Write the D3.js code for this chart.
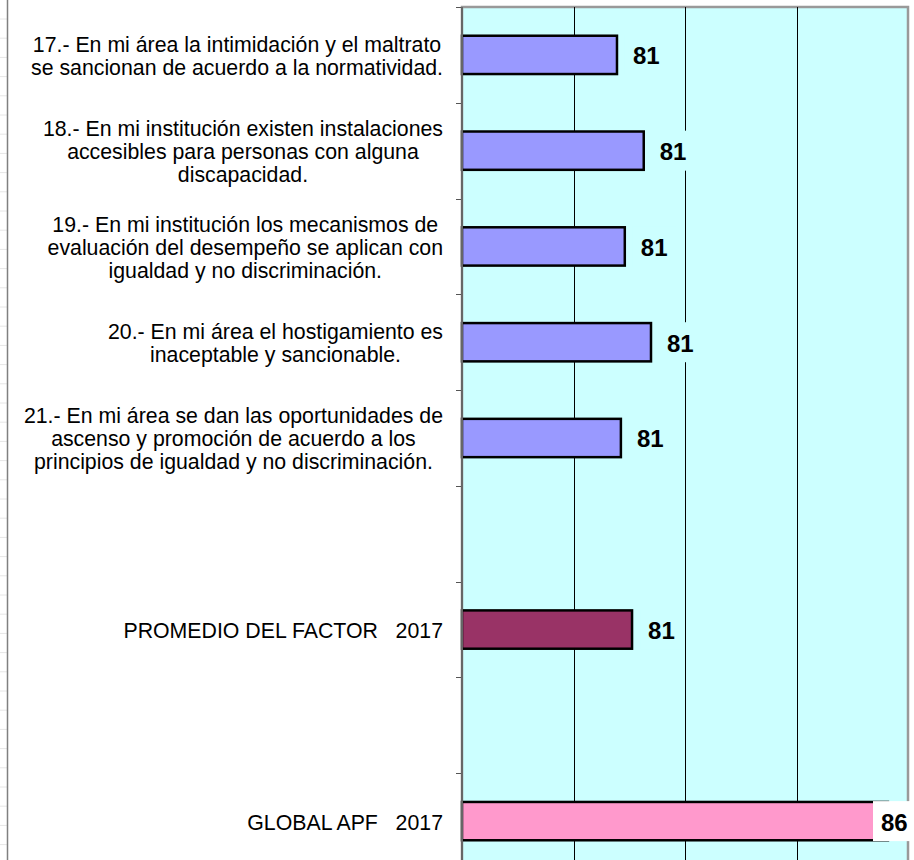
<!DOCTYPE html>
<html>
<head>
<meta charset="utf-8">
<script src="https://cdn.jsdelivr.net/npm/d3@7"></script>
<style>
  html, body { margin: 0; padding: 0; background: #fff; }
  svg { display: block; font-family: "Liberation Sans", Arial, sans-serif; }
</style>
</head>
<body>
<div id="chart"></div>
<script>
// data
var categories = ['q17', 'q18', 'q19', 'q20', 'q21', 'gap1', 'prom', 'gap2', 'global'];
var labels = [
  ['17.- En mi área la intimidación y el maltrato', 'se sancionan de acuerdo a la normatividad.'],
  ['18.- En mi institución existen instalaciones', 'accesibles para personas con alguna', 'discapacidad.'],
  ['19.- En mi institución los mecanismos de', 'evaluación del desempeño se aplican con', 'igualdad y no discriminación.'],
  ['20.- En mi área el hostigamiento es', 'inaceptable y sancionable.'],
  ['21.- En mi área se dan las oportunidades de', 'ascenso y promoción de acuerdo a los', 'principios de igualdad y no discriminación.'],
  [],
  ['PROMEDIO DEL FACTOR   2017'],
  [],
  ['GLOBAL APF   2017']
];
var values = [80.78, 81.26, 80.92, 81.39, 80.85, null, 81.05, null, 85.64];
var barColors = ['#9999FF', '#9999FF', '#9999FF', '#9999FF', '#9999FF', null, '#993366', null, '#FF99CC'];
var xDomain = [78, 86];
var gridTicks = [80, 82, 84];

(function() {
  'use strict';

  var svgW = 914,
    svgH = 860;

  var plotL = 462,
    plotR = 908,
    plotT = 7,
    plotB = 869;

  var lineH = 23,
    labelRight = 443;

  var rows = categories.map(function(c, i) {
    return { key: c, lines: labels[i], value: values[i], color: barColors[i] };
  });

  var svg = d3.select('#chart')
    .append('svg')
    .attr('width', svgW)
    .attr('height', svgH);

  var x = d3.scaleLinear()
    .domain(xDomain)
    .range([plotL, plotR]);

  var y = d3.scaleBand()
    .domain(categories)
    .range([plotT, plotB])
    .paddingInner(0.6)
    .paddingOuter(0.3);

  var step = y.step();

  // spreadsheet leftovers on the left edge
  svg.append('g')
    .selectAll('line')
    .data(d3.range(19, svgH, 19.2))
    .enter()
    .append('line')
    .attr('x1', 0)
    .attr('x2', 7)
    .attr('y1', function(d) { return d; })
    .attr('y2', function(d) { return d; })
    .attr('stroke', '#e6e6e6')
    .attr('stroke-width', 1);

  svg.append('line')
    .attr('x1', 7.5).attr('x2', 7.5)
    .attr('y1', 0).attr('y2', svgH)
    .attr('stroke', '#808080')
    .attr('stroke-width', 1.5);

  // plot area
  svg.append('rect')
    .attr('x', plotL)
    .attr('y', plotT)
    .attr('width', plotR - plotL)
    .attr('height', plotB - plotT)
    .attr('fill', '#CCFFFF')
    .attr('stroke', '#999999')
    .attr('stroke-width', 2.5);

  svg.append('g')
    .selectAll('line')
    .data(gridTicks)
    .enter()
    .append('line')
    .attr('x1', function(d) { return Math.round(x(d)) + 0.5; })
    .attr('x2', function(d) { return Math.round(x(d)) + 0.5; })
    .attr('y1', plotT)
    .attr('y2', plotB)
    .attr('stroke', '#000')
    .attr('stroke-width', 1);

  // category axis with ticks between the bands
  var tickYs = categories.map(function(c) {
    return y(c) - y.paddingInner() * step / 2;
  });
  tickYs.push(plotB);

  svg.append('g')
    .selectAll('line')
    .data(tickYs)
    .enter()
    .append('line')
    .attr('x1', plotL - 6)
    .attr('x2', plotL)
    .attr('y1', function(d) { return Math.round(d) + 0.5; })
    .attr('y2', function(d) { return Math.round(d) + 0.5; })
    .attr('stroke', '#555')
    .attr('stroke-width', 1);

  var barRows = rows.filter(function(d) { return d.value !== null; });

  svg.append('g')
    .selectAll('rect')
    .data(barRows)
    .enter()
    .append('rect')
    .attr('x', x(xDomain[0]))
    .attr('y', function(d) { return y(d.key); })
    .attr('width', function(d) { return x(d.value) - x(xDomain[0]); })
    .attr('height', y.bandwidth())
    .attr('fill', function(d) { return d.color; })
    .attr('stroke', '#000')
    .attr('stroke-width', 2.5);

  svg.append('line')
    .attr('x1', plotL).attr('x2', plotL)
    .attr('y1', plotT).attr('y2', plotB)
    .attr('stroke', '#666')
    .attr('stroke-width', 2);

  // value labels, boxed so the gridlines stop behind them
  var boxW = 44,
    boxH = 40;

  var valueLabels = svg.append('g')
    .selectAll('g')
    .data(barRows)
    .enter()
    .append('g')
    .attr('transform', function(d) {
      var bx = Math.min(x(d.value) + 8, plotR - 35);
      return 'translate(' + bx + ',' + (y(d.key) + y.bandwidth() / 2) + ')';
    });

  valueLabels.append('rect')
    .attr('x', 0)
    .attr('y', -boxH / 2)
    .attr('width', boxW)
    .attr('height', boxH)
    .attr('fill', function(d) { return d.key === 'global' ? '#fff' : '#CCFFFF'; });

  valueLabels.append('text')
    .text(function(d) { return d3.format('.0f')(d.value); })
    .attr('x', 8)
    .attr('y', 1)
    .attr('dy', '0.35em')
    .attr('font-size', 24)
    .attr('font-weight', 'bold')
    .attr('fill', '#000');

  // category labels: centred lines, block pushed against the axis
  var catLabels = svg.append('g')
    .selectAll('text')
    .data(rows)
    .enter()
    .append('text')
    .attr('font-size', 21.3)
    .attr('fill', '#000')
    .attr('text-anchor', 'middle')
    .style('white-space', 'pre');

  catLabels.each(function(d) {
    var t = d3.select(this),
      n = d.lines.length,
      cy = y(d.key) + y.bandwidth() / 2 + 1,
      maxW = 0;

    d.lines.forEach(function(line, i) {
      var ts = t.append('tspan')
        .text(line)
        .attr('y', cy + (i - (n - 1) / 2) * lineH)
        .attr('dy', '0.35em');
      maxW = Math.max(maxW, ts.node().getComputedTextLength());
    });

    t.selectAll('tspan').attr('x', labelRight - maxW / 2);
  });

}());
</script>
</body>
</html>
